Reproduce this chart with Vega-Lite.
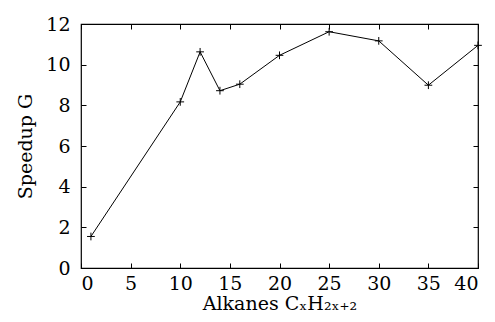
{
  "$schema": "https://vega.github.io/schema/vega-lite/v6.json",
  "autosize": "none",
  "width": 397,
  "height": 244,
  "padding": {"left": 81, "top": 24, "right": 17, "bottom": 54},
  "background": "white",
  "config": {
    "view": {"stroke": "black", "strokeWidth": 1.2},
    "font": "DejaVu Serif",
    "axis": {
      "domain": false,
      "grid": false,
      "tickColor": "black",
      "tickWidth": 1,
      "labelColor": "black",
      "titleColor": "black",
      "labelFont": "DejaVu Serif",
      "titleFont": "DejaVu Serif",
      "labelFontSize": 19,
      "titleFontSize": 19,
      "titleFontWeight": "normal"
    }
  },
  "data": {
    "values": [
      {"x": 1, "g": 1.55},
      {"x": 10, "g": 8.17},
      {"x": 12, "g": 10.63},
      {"x": 14, "g": 8.72},
      {"x": 16, "g": 9.04},
      {"x": 20, "g": 10.46},
      {"x": 25, "g": 11.62},
      {"x": 30, "g": 11.17},
      {"x": 35, "g": 8.99},
      {"x": 40, "g": 10.95}
    ]
  },
  "layer": [
    {
      "mark": {"type": "line", "color": "black", "strokeWidth": 1},
      "encoding": {
        "x": {"field": "x", "type": "quantitative", "scale": {"domain": [0, 40], "nice": false},
          "axis": {"orient": "bottom", "values": [0,5,10,15,20,25,30,35,40], "tickSize": -5, "labelPadding": 11, "title": "Alkanes CₓH₂ₓ₊₂", "titlePadding": 1}},
        "y": {"field": "g", "type": "quantitative", "scale": {"domain": [0, 12], "nice": false},
          "axis": {"orient": "left", "values": [0,2,4,6,8,10,12], "tickSize": -5, "labelPadding": 16, "title": "Speedup G", "titlePadding": 10}}
      }
    },
    {
      "mark": {"type": "point", "shape": "M-1,0H1M0,-1V1", "filled": false, "stroke": "black", "strokeWidth": 1, "size": 60, "opacity": 1},
      "encoding": {
        "x": {"field": "x", "type": "quantitative", "scale": {"domain": [0, 40], "nice": false},
          "axis": {"orient": "top", "values": [0,5,10,15,20,25,30,35,40], "tickSize": -5, "labels": false, "title": null}},
        "y": {"field": "g", "type": "quantitative", "scale": {"domain": [0, 12], "nice": false},
          "axis": {"orient": "right", "values": [0,2,4,6,8,10,12], "tickSize": -5, "labels": false, "title": null}}
      }
    }
  ],
  "resolve": {"axis": {"x": "independent", "y": "independent"}}
}
